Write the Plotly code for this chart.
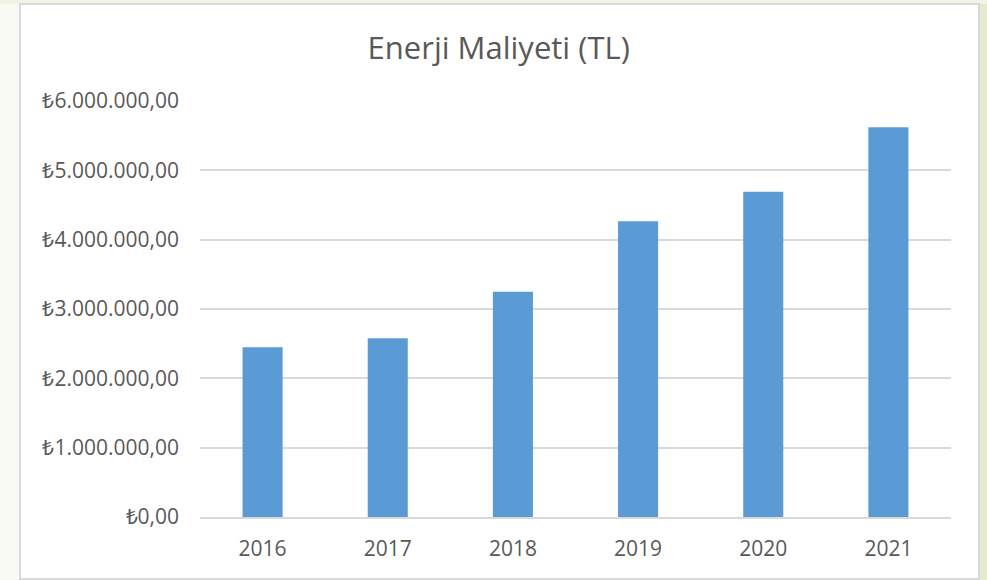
import plotly.graph_objects as go

years = ["2016", "2017", "2018", "2019", "2020", "2021"]
costs = [2450000, 2578000, 3250000, 4265000, 4690000, 5620000]
tick_values = [0, 1000000, 2000000, 3000000, 4000000, 5000000, 6000000]
tick_labels = ["₺0,00", "₺1.000.000,00", "₺2.000.000,00", "₺3.000.000,00",
               "₺4.000.000,00", "₺5.000.000,00", "₺6.000.000,00"]

W, H = 987, 580
L, R, T, B = 200, 36, 100, 63
pw, ph = W - L - R, H - T - B
y_top = 6000000 * ph / 416.0

def px(x):
    return (x - L) / pw

def py(y):
    return (H - B - y) / ph

fig = go.Figure(go.Bar(
    x=years, y=costs,
    marker=dict(color="#5b9bd5", line=dict(color="#5b9bd5", width=0)),
    width=0.32,
))

shapes = [
    dict(type="rect", xref="paper", yref="paper", x0=px(980), x1=px(990), y0=py(590), y1=py(-10),
         fillcolor="#e5ecce", line=dict(width=0), layer="below"),
    dict(type="rect", xref="paper", yref="paper", x0=px(-10), x1=px(990), y0=py(4), y1=py(-10),
         fillcolor="#f1f3e6", line=dict(width=0), layer="below"),
    dict(type="rect", xref="paper", yref="paper", x0=px(20), x1=px(979), y0=py(579), y1=py(4),
         fillcolor="white", line=dict(color="#d9d9d9", width=2), layer="below"),
]

fig.update_layout(
    width=W, height=H,
    margin=dict(l=L, r=R, t=T, b=B, pad=0),
    paper_bgcolor="#f9faf3",
    plot_bgcolor="rgba(0,0,0,0)",
    shapes=shapes,
    showlegend=False,
    bargap=0.68,
    title=dict(text="Enerji Maliyeti (TL)", x=498.7 / W, xref="container", xanchor="center",
               y=1 - 48 / H, yref="container", yanchor="middle",
               font=dict(family="Open Sans", size=31, color="#595959")),
    font=dict(family="Open Sans", color="#595959"),
)
fig.update_xaxes(
    showline=True, linecolor="#d9d9d9", linewidth=1.5,
    showgrid=False, ticks="", ticklabelstandoff=12,
    tickfont=dict(family="Open Sans", size=21, color="#595959"),
)
fig.update_yaxes(
    range=[0, y_top], tickvals=tick_values, ticktext=tick_labels,
    showgrid=True, gridcolor="#d9d9d9", gridwidth=1.5, zeroline=False,
    showline=False, ticks="", ticklabelstandoff=20,
    tickfont=dict(family="Open Sans", size=21, color="#595959"),
)

fig.write_html("out.html", config={"displayModeBar": False},
               post_script="document.body.style.margin='0px';document.body.style.padding='0px';")
